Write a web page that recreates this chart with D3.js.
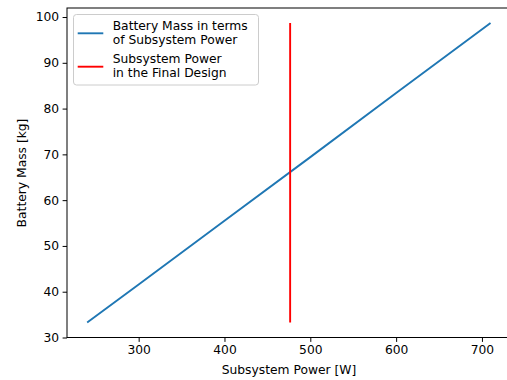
<!DOCTYPE html>
<html>
<head>
<meta charset="utf-8">
<script src="https://cdn.jsdelivr.net/npm/d3@7"></script>
<style>
  body { margin: 0; background: #fff; }
  svg { display: block; font-family: "DejaVu Sans", sans-serif; }
</style>
</head>
<body>
<svg id="chart" width="507" height="380"></svg>
<script>
// Data
var power = [240, 300, 400, 500, 600, 710]
var batteryMass = [33.3, 41.6, 55.5, 69.4, 83.4, 98.7]
var finalPower = [476.5, 476.5]
var finalMass = [33.3, 98.7]
var xTicks = [300, 400, 500, 600, 700]
var yTicks = [30, 40, 50, 60, 70, 80, 90, 100]
var legendLabels = [["Battery Mass in terms", "of Subsystem Power"], ["Subsystem Power", "in the Final Design"]]
var colors = ["#1f77b4", "red"]

var svg = d3.select("#chart")
var plotLeft = 67, plotRight = 510.7, plotTop = 8, plotBottom = 337.5
var fs = 12.3

var x = d3.scaleLinear().domain([216.5, 733.5]).range([plotLeft, plotRight])
var y = d3.scaleLinear().domain([30.0, 101.97]).range([plotBottom, plotTop])

// spines
svg.append("rect")
  .attr("x", plotLeft).attr("y", plotTop)
  .attr("width", plotRight - plotLeft).attr("height", plotBottom - plotTop)
  .attr("fill", "none").attr("stroke", "#000").attr("stroke-width", 1)

// x axis
var xAxis = svg.append("g")
  .attr("transform", "translate(0," + plotBottom + ")")
  .call(d3.axisBottom(x).tickValues(xTicks).tickSize(4.4).tickPadding(3.5))
xAxis.select(".domain").remove()
xAxis.selectAll("text").attr("font-size", fs).attr("font-family", "DejaVu Sans").attr("fill", "#000")

// y axis
var yAxis = svg.append("g")
  .attr("transform", "translate(" + plotLeft + ",0)")
  .call(d3.axisLeft(y).tickValues(yTicks).tickSize(4.4).tickPadding(3.5))
yAxis.select(".domain").remove()
yAxis.selectAll("text").attr("font-size", fs).attr("font-family", "DejaVu Sans").attr("fill", "#000")

// labels
svg.append("text")
  .attr("x", 289).attr("y", 374)
  .attr("text-anchor", "middle").attr("font-size", fs)
  .text("Subsystem Power [W]")

svg.append("text")
  .attr("transform", "translate(26,173) rotate(-90)")
  .attr("text-anchor", "middle").attr("font-size", fs)
  .text("Battery Mass [kg]")

// lines
var line = d3.line()
  .x(function(d) { return x(d[0]) })
  .y(function(d) { return y(d[1]) })

svg.append("path")
  .datum(d3.zip(power, batteryMass))
  .attr("d", line)
  .attr("fill", "none").attr("stroke", colors[0]).attr("stroke-width", 1.9)

svg.append("path")
  .datum(d3.zip(finalPower, finalMass))
  .attr("d", line)
  .attr("fill", "none").attr("stroke", colors[1]).attr("stroke-width", 1.9)

// legend
var legend = svg.append("g")
legend.append("rect")
  .attr("x", 73.5).attr("y", 14.5).attr("width", 185).attr("height", 70.5)
  .attr("rx", 3).attr("fill", "#fff").attr("fill-opacity", 0.8)
  .attr("stroke", "#ccc").attr("stroke-width", 1)

legendLabels.forEach(function(lbl, i) {
  var cy = 33.3 + i * 33.4
  legend.append("line")
    .attr("x1", 77.7).attr("x2", 103.3).attr("y1", cy).attr("y2", cy)
    .attr("stroke", colors[i]).attr("stroke-width", 1.9)
  var t = legend.append("text").attr("font-size", fs)
  lbl.forEach(function(s, j) {
    t.append("tspan").attr("x", 112.7).attr("y", cy - 3.6 + j * 14.3).text(s)
  })
})
</script>
</body>
</html>
